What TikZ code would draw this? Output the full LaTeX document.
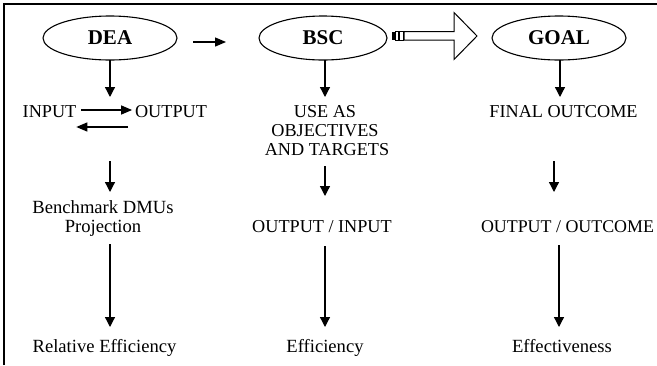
\documentclass[tikz,border=0pt]{standalone}
\usepackage{fontspec}
\setmainfont{Liberation Serif}
\usetikzlibrary{shapes.geometric,arrows.meta}
\begin{document}
\begin{tikzpicture}[x=1pt,y=-1pt,
  ell/.style={ellipse,draw,line width=1.1pt,inner sep=0pt,outer sep=0pt,minimum width=134pt,minimum height=44pt,font=\fontsize{21}{24}\selectfont\bfseries},
  txt/.style={inner sep=0pt,outer sep=0pt,anchor=base,text height=12pt,text depth=4pt,font=\fontsize{18.2}{20}\selectfont},
  ltxt/.style={txt,font=\fontsize{18.6}{20}\selectfont},
  arr/.style={line width=1.3pt,-{Triangle[width=10pt,length=10pt]}},
  harr/.style={line width=1.3pt,-{Triangle[width=9pt,length=11pt]}},
  blk/.style={line width=1pt,line join=miter}
]
\useasboundingbox (0,0) rectangle (657,365);
\draw[line width=1.3pt] (4,365) -- (4,4) -- (657,4);

% column coordinates
\coordinate (cA) at (110,0);
\coordinate (cB) at (325,0);
\coordinate (cC) at (560,0);
\coordinate (cC2) at (554,0);
\coordinate (cC3) at (559,0);

% ellipses
\node[ell] (dea) at (110,38) {DEA};
\node[ell,minimum width=128pt] (bsc) at (323,38) {BSC};
\node[ell] (goal) at (559,38) {GOAL};

% texts
\node[txt] (input) at (49.5,117) {INPUT};
\node[txt] (output) at (171,117) {OUTPUT};
\node[ltxt] (bench) at (103,213) {Benchmark DMUs};
\node[ltxt] (proj) at (103,232) {Projection};
\node[ltxt] (rel) at (104.5,352) {Relative Efficiency};

\node[txt] (use) at (325,117) {USE AS};
\node[txt] (obj) at (325,136) {OBJECTIVES};
\node[txt] (tgt) at (327,155) {AND TARGETS};
\node[txt] (oi) at (322,232) {OUTPUT / INPUT};
\node[ltxt] (eff) at (325,352) {Efficiency};

\node[txt] (final) at (563.5,117) {FINAL OUTCOME};
\node[txt,anchor=base west,font=\fontsize{17.9}{20}\selectfont] (oo) at (481,232) {OUTPUT / OUTCOME};
\node[ltxt] (effv) at (562,352) {Effectiveness};

% DEA column
\draw[arr,shorten >=8pt] (dea.south) -- (dea.south |- output.north);
\draw[harr,shorten <=5pt,shorten >=3pt] ([yshift=3pt]input.east) -- ([yshift=3pt]output.west);
\draw[harr] ([xshift=-7pt,yshift=-6pt]output.south west) -- ([yshift=-6pt]input.south east);
\draw[arr,shorten <=40pt,shorten >=9pt] (input.south -| cA) -- (bench.north -| cA);
\draw[arr,shorten <=8pt,shorten >=13pt] (proj.south -| cA) -- (rel.north -| cA);

% DEA -> BSC
\draw[harr,shorten <=16pt,shorten >=33pt] ([yshift=-4pt]dea.east) -- ([yshift=-4pt]bsc.west);

% BSC column
\draw[arr,shorten >=8pt] (bsc.south -| cB) -- (use.north -| cB);
\draw[arr,shorten <=7pt,shorten >=24pt] (tgt.south -| cB) -- (oi.north -| cB);
\draw[arr,shorten <=10pt,shorten >=13pt] (oi.south -| cB) -- (eff.north -| cB);

% BSC => GOAL striped block arrow
\begin{scope}[shift={(bsc.east)}]
  \fill (5,-6.5) rectangle (7.5,2);
  \draw[blk] (8.5,-6.5) rectangle (11.5,2);
  \draw[blk] (12.5,-6.5) rectangle (16,2);
  \draw[blk] (17,-6.5) -- (67,-6.5) -- (67,-25.5) -- (90,-2) -- (67,21.5) -- (67,2) -- (17,2) -- cycle;
\end{scope}

% GOAL column
\draw[arr,shorten >=8pt] (goal.south -| cC) -- (final.north -| cC);
\draw[arr,shorten <=40pt,shorten >=28pt] (final.south -| cC2) -- (oo.north -| cC2);
\draw[arr,shorten <=9pt,shorten >=13pt] (oo.south -| cC3) -- (effv.north -| cC3);
\end{tikzpicture}
\end{document}
